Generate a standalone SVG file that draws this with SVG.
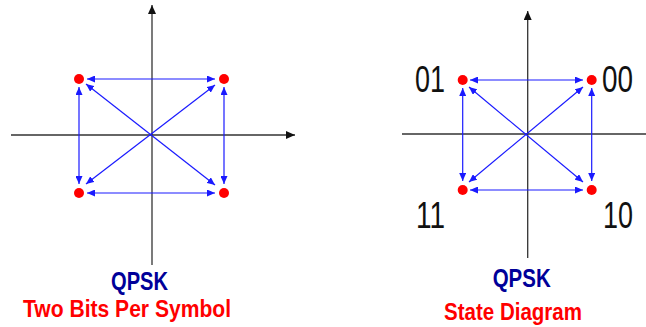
<svg xmlns="http://www.w3.org/2000/svg" width="646" height="327" viewBox="0 0 646 327">
<style>
.axis{stroke:#333;stroke-width:1.3;fill:none}
.link{stroke:#1a1aff;stroke-width:1.2;fill:none}
.dot{fill:#ff0000}
.title{font-family:"Liberation Sans",Arial,sans-serif;font-weight:bold;font-size:26px;fill:#000099}
.sub{font-family:"Liberation Sans",Arial,sans-serif;font-weight:bold;font-size:23.5px;fill:#ff0000}
.lbl{font-family:"Liberation Sans",Arial,sans-serif;font-size:36px;fill:#111}
</style>
<defs>
<marker id="bh" markerUnits="userSpaceOnUse" markerWidth="8" markerHeight="7" refX="8" refY="3.5" orient="auto-start-reverse"><path d="M0,0 L8,3.5 L0,7 z" fill="#1a1aff"/></marker>
<marker id="ah" markerUnits="userSpaceOnUse" markerWidth="9" markerHeight="8" refX="9" refY="4" orient="auto"><path d="M0,0 L9,4 L0,8 z" fill="#111"/></marker>
</defs>
<g id="axes">
<line class="axis" x1="152" y1="265" x2="152" y2="5" marker-end="url(#ah)"/>
<line class="axis" x1="11" y1="135" x2="295" y2="135" marker-end="url(#ah)"/>
<line class="axis" x1="527.7" y1="258" x2="527.7" y2="11" marker-end="url(#ah)"/>
<line class="axis" x1="402" y1="134" x2="646" y2="134"/>
</g>
<g id="connectors">
<line class="link" x1="87" y1="79" x2="215" y2="79" marker-start="url(#bh)" marker-end="url(#bh)"/>
<line class="link" x1="87" y1="193" x2="215" y2="193" marker-start="url(#bh)" marker-end="url(#bh)"/>
<line class="link" x1="79" y1="87" x2="79" y2="184" marker-start="url(#bh)" marker-end="url(#bh)"/>
<line class="link" x1="224" y1="87" x2="224" y2="184" marker-start="url(#bh)" marker-end="url(#bh)"/>
<line class="link" x1="86" y1="84" x2="215" y2="185" marker-start="url(#bh)" marker-end="url(#bh)"/>
<line class="link" x1="215" y1="85" x2="86" y2="184" marker-start="url(#bh)" marker-end="url(#bh)"/>
<line class="link" x1="470" y1="80" x2="583" y2="80" marker-start="url(#bh)" marker-end="url(#bh)"/>
<line class="link" x1="470" y1="190" x2="583" y2="190" marker-start="url(#bh)" marker-end="url(#bh)"/>
<line class="link" x1="462.7" y1="88" x2="462.7" y2="181" marker-start="url(#bh)" marker-end="url(#bh)"/>
<line class="link" x1="591.7" y1="88" x2="591.7" y2="181" marker-start="url(#bh)" marker-end="url(#bh)"/>
<line class="link" x1="469" y1="87" x2="583" y2="182" marker-start="url(#bh)" marker-end="url(#bh)"/>
<line class="link" x1="583" y1="87" x2="469" y2="182" marker-start="url(#bh)" marker-end="url(#bh)"/>
</g>
<g id="left-points">
<circle class="dot" cx="79" cy="79" r="5"/>
<circle class="dot" cx="224" cy="79" r="5"/>
<circle class="dot" cx="79" cy="193" r="5"/>
<circle class="dot" cx="224" cy="193" r="5"/>
</g>
<g id="right-points">
<circle class="dot" cx="462.7" cy="80" r="5"/>
<circle class="dot" cx="591.7" cy="80" r="5"/>
<circle class="dot" cx="462.7" cy="190" r="5"/>
<circle class="dot" cx="591.7" cy="190" r="5"/>
</g>
<g id="labels">
<text class="lbl" x="415" y="92" textLength="30" lengthAdjust="spacingAndGlyphs">01</text>
<text class="lbl" x="602" y="92" textLength="31" lengthAdjust="spacingAndGlyphs">00</text>
<text class="lbl" x="416" y="228" textLength="29" lengthAdjust="spacingAndGlyphs">11</text>
<text class="lbl" x="603" y="228" textLength="30" lengthAdjust="spacingAndGlyphs">10</text>
</g>
<g id="captions">
<text class="title" x="111" y="290" textLength="57" lengthAdjust="spacingAndGlyphs">QPSK</text>
<text class="sub" x="23" y="317" textLength="208" lengthAdjust="spacingAndGlyphs">Two Bits Per Symbol</text>
<text class="title" x="492.7" y="287" textLength="58" lengthAdjust="spacingAndGlyphs">QPSK</text>
<text class="sub" x="444" y="319.5" textLength="138" lengthAdjust="spacingAndGlyphs">State Diagram</text>
</g>
</svg>
